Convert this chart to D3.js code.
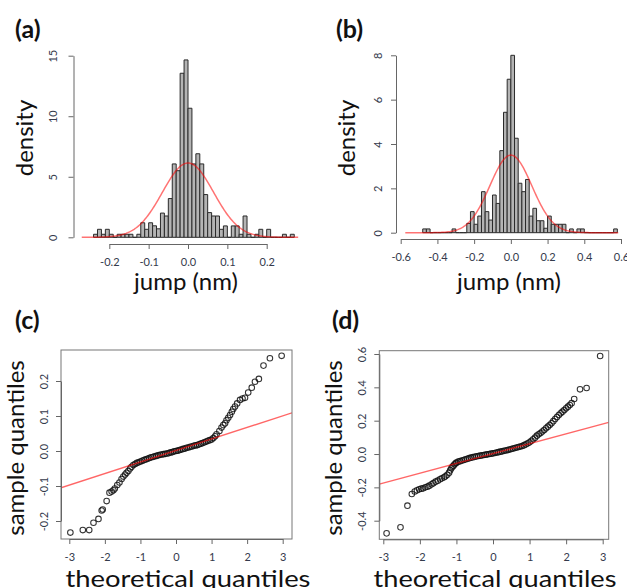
<!DOCTYPE html>
<html lang="en">
<head>
<meta charset="UTF-8">
<title>Jump histograms and normal QQ plots</title>
<script src="https://d3js.org/d3.v7.min.js"></script>
<style>
  body { margin: 0; background: #fff; }
  svg { display: block; font-family: Lato, "Open Sans", sans-serif; }
  .bar { fill: #b4b4b4; stroke: #2a2a2a; stroke-width: 1; }
  .fit { fill: none; stroke: red; stroke-opacity: 0.55; stroke-width: 1.5; }
  .qqline { stroke: red; stroke-opacity: 0.6; stroke-width: 1.4; }
  .pt { fill: none; stroke: #111; stroke-opacity: 0.85; stroke-width: 1.05; }
  .box { fill: none; stroke: #777; stroke-width: 1; }
  .tag { font-size: 25px; font-weight: bold; fill: #111; }
  .ttl { font-size: 24px; fill: #111; }
</style>
</head>
<body>
<svg id="fig" width="627" height="588"></svg>
<script>
// ---- data ----
// (a) histogram, bins of 0.01 nm starting at -0.24
const binStartA = -0.24, binWidthA = 0.01;
const densA = [0.25, 0.66, 0.25, 0.66, 0.25, 0, 0.25, 0.25, 0.25, 0.25,
               0, 0.25, 1.2, 0.66, 1.2, 0.95, 0.7, 2.0, 1.76, 3.2,
               6.06, 5.5, 13.55, 14.65, 10.66, 6.06, 6.9, 6.06, 3.53, 2.04,
               1.76, 1.76, 0.66, 0.94, 0, 0.94, 0.94, 0.25, 1.76, 0.25,
               0, 0.25, 0.66, 0, 0.66, 0, 0, 0, 0.25, 0, 0.25];
const fitMeanA = 0.0, fitSdA = 0.065;

// (b) histogram, bins of 0.02 nm starting at -0.48
const binStartB = -0.48, binWidthB = 0.02;
const densB = [0.17, 0.17, 0, 0, 0, 0, 0, 0, 0.17, 0,
               0, 0, 0.42, 0.95, 0.38, 0.75, 1.85, 0.95, 0.57, 1.7,
               1.32, 3.7, 5.43, 6.92, 8.0, 4.26, 2.23, 1.85, 2.4, 0.75,
               1.1, 0.54, 0.54, 0.2, 0.75, 0.38, 0.38, 0.38, 0.38, 0,
               0.17, 0, 0.17, 0.17, 0, 0, 0, 0, 0, 0,
               0, 0, 0.17];
const fitMeanB = 0.0, fitSdB = 0.114;

// (c) normal QQ: [theoretical quantile, sample quantile]
const qqC = [
  [-2.97,-0.233],[-2.62,-0.226],[-2.44,-0.226],[-2.32,-0.205],[-2.18,-0.194],[-2.09,-0.170],
  [-2.06,-0.167],[-1.95,-0.143],[-1.87,-0.119],[-1.81,-0.116],[-1.76,-0.112],[-1.72,-0.107],
  [-1.65,-0.097],[-1.59,-0.090],[-1.53,-0.080],[-1.48,-0.073],[-1.43,-0.067],[-1.39,-0.062],
  [-1.34,-0.057],[-1.29,-0.050],[-1.25,-0.045],[-1.20,-0.040],
  [-1.15,-0.037],[-1.10,-0.034],[-1.05,-0.032],[-1.00,-0.030],[-0.95,-0.028],[-0.90,-0.026],
  [-0.85,-0.024],[-0.80,-0.022],[-0.75,-0.020],[-0.70,-0.018],[-0.65,-0.017],[-0.60,-0.015],
  [-0.55,-0.014],[-0.50,-0.012],[-0.45,-0.011],[-0.40,-0.010],[-0.35,-0.009],[-0.30,-0.008],
  [-0.25,-0.007],[-0.20,-0.006],[-0.15,-0.004],[-0.10,-0.003],[-0.05,-0.001],[0.00,0.000],
  [0.05,0.001],[0.10,0.003],[0.15,0.004],[0.20,0.006],[0.25,0.007],[0.30,0.009],
  [0.35,0.010],[0.40,0.012],[0.45,0.013],[0.50,0.015],[0.55,0.016],[0.60,0.017],
  [0.65,0.019],[0.70,0.021],[0.75,0.023],[0.80,0.025],[0.85,0.027],[0.90,0.029],
  [0.95,0.031],[1.00,0.033],[1.05,0.037],[1.10,0.042],
  [1.14,0.048],[1.22,0.057],[1.28,0.067],[1.33,0.074],[1.38,0.079],[1.42,0.088],
  [1.47,0.095],[1.52,0.103],[1.57,0.112],[1.61,0.120],[1.66,0.127],[1.72,0.136],
  [1.80,0.146],[1.87,0.150],[1.94,0.152],[2.03,0.167],[2.13,0.181],[2.22,0.198],
  [2.33,0.206],[2.46,0.244],[2.64,0.265],[2.97,0.272]
];
const qqLineC = { intercept: 0.0015, slope: 0.033 };

// (d) normal QQ
const qqD = [
  [-2.91,-0.476],[-2.53,-0.440],[-2.34,-0.310],[-2.22,-0.240],[-2.14,-0.225],[-2.08,-0.218],
  [-2.02,-0.212],[-1.96,-0.208],[-1.91,-0.206],[-1.85,-0.200],[-1.79,-0.196],[-1.74,-0.190],
  [-1.68,-0.182],[-1.63,-0.175],[-1.57,-0.166],[-1.51,-0.160],[-1.45,-0.152],[-1.40,-0.146],
  [-1.34,-0.140],[-1.30,-0.134],[-1.25,-0.125],[-1.20,-0.112],[-1.17,-0.098],[-1.14,-0.086],
  [-1.11,-0.077],[-1.08,-0.070],[-1.05,-0.062],[-1.02,-0.056],
  [-1.00,-0.052],[-0.95,-0.046],[-0.90,-0.043],[-0.85,-0.039],[-0.80,-0.036],[-0.75,-0.032],
  [-0.70,-0.029],[-0.65,-0.025],[-0.60,-0.022],[-0.55,-0.019],[-0.50,-0.017],[-0.45,-0.014],
  [-0.40,-0.012],[-0.35,-0.010],[-0.30,-0.008],[-0.25,-0.006],[-0.20,-0.004],[-0.15,-0.002],
  [-0.10,0.000],[-0.05,0.002],[0.00,0.004],[0.05,0.006],[0.10,0.009],[0.15,0.011],
  [0.20,0.014],[0.25,0.016],[0.30,0.019],[0.35,0.021],[0.40,0.024],[0.45,0.027],
  [0.50,0.030],[0.55,0.033],[0.60,0.036],[0.65,0.039],[0.70,0.042],[0.75,0.045],
  [0.80,0.048],[0.85,0.053],[0.90,0.058],[0.95,0.064],[1.00,0.070],[1.05,0.079],
  [1.10,0.088],[1.15,0.098],[1.20,0.110],[1.25,0.118],[1.30,0.126],[1.35,0.135],
  [1.40,0.144],[1.45,0.154],[1.50,0.164],[1.55,0.174],[1.60,0.184],[1.65,0.197],
  [1.70,0.210],[1.75,0.222],[1.80,0.234],[1.85,0.244],[1.90,0.254],[1.95,0.264],
  [2.00,0.274],[2.05,0.284],[2.10,0.294],[2.15,0.305],[2.22,0.330],[2.38,0.388],
  [2.56,0.396],[2.93,0.588]
];
const qqLineD = { intercept: 0.003, slope: 0.059 };

// tick values
const ticksAx = [-0.2, -0.1, 0, 0.1, 0.2], ticksAy = [0, 5, 10, 15];
const ticksBx = [-0.6, -0.4, -0.2, 0, 0.2, 0.4, 0.6], ticksBy = [0, 2, 4, 6, 8];
const ticksQx = [-3, -2, -1, 0, 1, 2, 3];
const ticksCy = [-0.2, -0.1, 0, 0.1, 0.2];
const ticksDy = [-0.4, -0.2, 0, 0.2, 0.4, 0.6];

const svg = d3.select("#fig");
const axisCol = "#666", labCol = "#343a4c";

function dnorm(x, m, s) {
  return Math.exp(-0.5 * ((x - m) / s) ** 2) / (s * Math.sqrt(2 * Math.PI));
}

function styleAxis(g) {
  g.select(".domain").attr("stroke", axisCol);
  g.selectAll(".tick line").attr("stroke", axisCol);
  g.selectAll(".tick text").attr("fill", labCol).style("font-size", "11px")
    .style("font-family", "Lato, 'Open Sans', sans-serif");
}

function bottomAxis(x, ticks, yPos, fmt) {
  const g = svg.append("g").attr("transform", `translate(0,${yPos})`)
    .call(d3.axisBottom(x).tickValues(ticks).tickSize(5).tickSizeOuter(0)
      .tickPadding(9).tickFormat(fmt));
  styleAxis(g);
}

function leftAxis(y, ticks, xPos, fmt, off) {
  const g = svg.append("g").attr("transform", `translate(${xPos},0)`)
    .call(d3.axisLeft(y).tickValues(ticks).tickSize(5).tickSizeOuter(0).tickFormat(fmt));
  styleAxis(g);
  g.selectAll(".tick text")
    .attr("transform", "rotate(-90)")
    .attr("x", 0).attr("y", -off).attr("dy", 0)
    .attr("text-anchor", "middle");
}

function histPanel(o) {
  const x = d3.scaleLinear().domain(d3.extent(o.xTicks)).range(o.xRange);
  const y = d3.scaleLinear().domain(d3.extent(o.yTicks)).range(o.yRange);
  svg.append("g").selectAll("path").data(o.dens).join("path")
    .attr("class", "bar")
    .attr("d", (d, i) => {
      const x0 = x(o.start + i * o.width), x1 = x(o.start + (i + 1) * o.width);
      return `M${x0},${y(0)}V${y(d)}H${x1}V${y(0)}Z`;
    });
  const n = 240, xs = d3.range(n + 1).map(i => o.curve[0] + (o.curve[1] - o.curve[0]) * i / n);
  svg.append("path").attr("class", "fit")
    .attr("d", d3.line().x(v => x(v)).y(v => y(dnorm(v, o.mean, o.sd)))(xs));
  bottomAxis(x, o.xTicks, o.xAxisY, d => d.toFixed(1));
  leftAxis(y, o.yTicks, o.yAxisX, d => String(d), o.yLabOff);
}

function qqPanel(o) {
  const x = d3.scaleLinear().domain(d3.extent(o.xTicks)).range(o.xRange);
  const y = d3.scaleLinear().domain(d3.extent(o.yTicks)).range(o.yRange);
  const [bx0, by0, bx1, by1] = o.box;
  const clipId = "clip" + o.id;
  svg.append("clipPath").attr("id", clipId).append("rect")
    .attr("x", bx0).attr("y", by0).attr("width", bx1 - bx0).attr("height", by1 - by0);
  const g = svg.append("g").attr("clip-path", `url(#${clipId})`);
  g.selectAll("circle").data(o.pts).join("circle").attr("class", "pt")
    .attr("cx", d => x(d[0])).attr("cy", d => y(d[1])).attr("r", 2.8);
  const t0 = x.invert(bx0), t1 = x.invert(bx1);
  g.append("line").attr("class", "qqline")
    .attr("x1", bx0).attr("y1", y(o.line.intercept + o.line.slope * t0))
    .attr("x2", bx1).attr("y2", y(o.line.intercept + o.line.slope * t1));
  svg.append("rect").attr("class", "box")
    .attr("x", bx0).attr("y", by0).attr("width", bx1 - bx0).attr("height", by1 - by0);
  bottomAxis(x, o.xTicks, by1, d => String(d));
  leftAxis(y, o.yTicks, bx0, d => d.toFixed(1), o.yLabOff);
}

histPanel({ dens: densA, start: binStartA, width: binWidthA, mean: fitMeanA, sd: fitSdA,
  curve: [-0.27, 0.28], xTicks: ticksAx, yTicks: ticksAy,
  xRange: [109.3, 266.7], yRange: [237.3, 55.7], xAxisY: 244, yAxisX: 73.5, yLabOff: 16.5 });
histPanel({ dens: densB, start: binStartB, width: binWidthB, mean: fitMeanB, sd: fitSdB,
  curve: [-0.575, 0.585], xTicks: ticksBx, yTicks: ticksBy,
  xRange: [400.7, 621], yRange: [232.7, 55.3], xAxisY: 239, yAxisX: 396, yLabOff: 14.5 });
qqPanel({ id: "c", pts: qqC, line: qqLineC, xTicks: ticksQx, yTicks: ticksCy,
  xRange: [69.3, 282.7], yRange: [521, 381], box: [61, 350, 292, 539], yLabOff: 13.5 });
qqPanel({ id: "d", pts: qqD, line: qqLineD, xTicks: ticksQx, yTicks: ticksDy,
  xRange: [383.3, 602.7], yRange: [520.7, 354], box: [379.3, 350.7, 608.7, 539.3], yLabOff: 13.5 });

// panel tags
[["(a)", 15, 38], ["(b)", 336, 38], ["(c)", 15, 329], ["(d)", 332, 329]].forEach(t =>
  svg.append("text").attr("class", "tag").attr("x", t[1]).attr("y", t[2]).text(t[0]));

// axis titles
function vTitle(txt, x, y) {
  svg.append("text").attr("class", "ttl").attr("text-anchor", "middle")
    .attr("transform", `translate(${x},${y}) rotate(-90)`).text(txt);
}
function hTitle(txt, x, y, size, len) {
  const t = svg.append("text").attr("class", "ttl").attr("text-anchor", "middle")
    .attr("x", x).attr("y", y).style("font-size", size + "px").text(txt);
  if (len) t.attr("textLength", len).attr("lengthAdjust", "spacingAndGlyphs");
}
vTitle("density", 33, 138);
vTitle("density", 355, 138);
hTitle("jump (nm)", 186, 290, 24);
hTitle("jump (nm)", 509, 290, 24);
vTitle("sample quantiles", 24, 448);
vTitle("sample quantiles", 342, 448);
hTitle("theoretical quantiles", 188, 587, 23, 245);
hTitle("theoretical quantiles", 495, 587, 23, 243);
</script>
</body>
</html>
